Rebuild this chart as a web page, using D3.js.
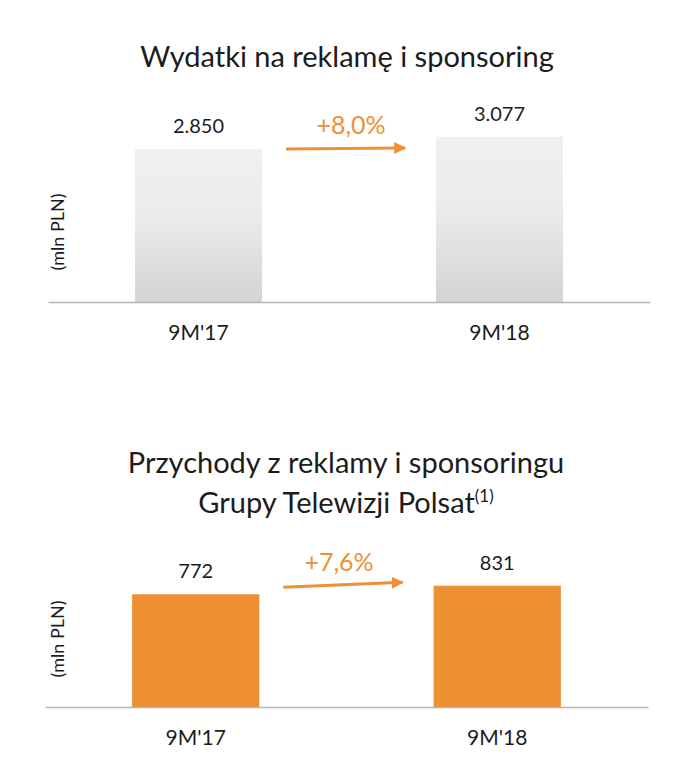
<!DOCTYPE html>
<html>
<head>
<meta charset="utf-8">
<script src="https://cdn.jsdelivr.net/npm/d3@7"></script>
<style>
  html, body { margin: 0; padding: 0; background: #fff; }
  svg { display: block; font-family: Lato, "Open Sans", sans-serif; }
</style>
</head>
<body>
<svg id="chart" width="700" height="772"></svg>
<script>
// ---- data ----
const categories = ["9M'17", "9M'18"];
const spendValues = [2850, 3077];
const spendLabels = ["2.850", "3.077"];
const spendChange = "+8,0%";
const revenueValues = [772, 831];
const revenueLabels = ["772", "831"];
const revenueChange = "+7,6%";
const unitLabel = "(mln PLN)";
const titleTop = ["Wydatki na reklamę i sponsoring"];
const titleBottom = ["Przychody z reklamy i sponsoringu", "Grupy Telewizji Polsat"];
const footnoteMark = "(1)";

const svg = d3.select("#chart");
const ORANGE = "#EE8F34";
const TEXT = "#1c1c1c";

const defs = svg.append("defs");
const grad = defs.append("linearGradient").attr("id", "greyGrad")
  .attr("x1", 0).attr("y1", 0).attr("x2", 0).attr("y2", 1);
grad.append("stop").attr("offset", "0%").attr("stop-color", "#f0f0f0");
grad.append("stop").attr("offset", "45%").attr("stop-color", "#ebebeb");
grad.append("stop").attr("offset", "100%").attr("stop-color", "#d3d3d3");

const marker = defs.append("marker").attr("id", "arrowHead")
  .attr("viewBox", "0 0 10 10").attr("refX", 9).attr("refY", 5)
  .attr("markerWidth", 4).attr("markerHeight", 4)
  .attr("markerUnits", "strokeWidth").attr("orient", "auto");
marker.append("path").attr("d", "M0,0 L10,5 L0,10 Z").attr("fill", ORANGE);

function panel(opts) {
  const g = svg.append("g");
  const x = d3.scaleBand().domain(categories).range(opts.xRange)
    .paddingInner(0.578).paddingOuter(0.289);
  const y = d3.scaleLinear().domain(opts.yDomain).range(opts.yRange);
  const base = y(0);

  // title
  const t = g.append("text").attr("x", opts.titleX).attr("y", opts.titleY)
    .attr("text-anchor", "middle").attr("fill", TEXT)
    .style("font-size", opts.titleSize + "px");
  opts.title.forEach((line, i) => {
    t.append("tspan").attr("x", opts.titleX).attr("dy", i === 0 ? 0 : opts.titleLH).text(line);
    if (opts.sup && i === opts.title.length - 1) {
      t.append("tspan").attr("dy", -11).style("font-size", "17px").text(opts.sup);
    }
  });

  // bars
  g.selectAll("rect.bar").data(opts.values).join("rect").attr("class", "bar")
    .attr("x", (d, i) => x(categories[i]))
    .attr("width", x.bandwidth())
    .attr("y", d => y(d))
    .attr("height", d => base - y(d))
    .attr("fill", opts.fill);

  // baseline axis
  const axis = d3.axisBottom(x).tickSize(0).tickPadding(0);
  const ag = g.append("g").attr("transform", `translate(0,${base})`).call(axis);
  ag.select(".domain").attr("stroke", "#b4b4b4").attr("stroke-width", 1.6);
  ag.selectAll(".tick text").attr("dy", 0).attr("y", 38)
    .attr("fill", TEXT).style("font-size", "21px").style("font-family", "Lato, 'Open Sans', sans-serif");

  // value labels
  g.selectAll("text.val").data(opts.values).join("text").attr("class", "val")
    .attr("x", (d, i) => x(categories[i]) + x.bandwidth() / 2)
    .attr("y", d => y(d) - 16)
    .attr("text-anchor", "middle").attr("fill", TEXT)
    .style("font-size", "20px")
    .text((d, i) => opts.labels[i]);

  // unit label
  g.append("text")
    .attr("transform", `translate(64,${opts.unitY}) rotate(-90)`)
    .attr("text-anchor", "middle").attr("fill", TEXT)
    .style("font-size", "18px").text(unitLabel);

  // change arrow
  const x0 = x(categories[0]) + x.bandwidth() + 24;
  const x1 = x(categories[1]) - 31;
  const ya = y(opts.values[0]) + opts.arrowDy[0];
  const yb = y(opts.values[0]) + opts.arrowDy[1];
  g.append("line").attr("x1", x0).attr("y1", ya).attr("x2", x1).attr("y2", yb)
    .attr("stroke", ORANGE).attr("stroke-width", 3).attr("marker-end", "url(#arrowHead)");
  g.append("text").attr("x", opts.changeX).attr("y", opts.changeY)
    .attr("text-anchor", "middle").attr("fill", ORANGE)
    .style("font-size", "25px").text(opts.change);
}

panel({
  title: titleTop, titleX: 347, titleY: 67, titleSize: 29, titleLH: 39,
  values: spendValues, labels: spendLabels, change: spendChange,
  xRange: [48, 650], yDomain: [0, 3500], yRange: [302, 302 - 3500 * 0.0537],
  fill: "url(#greyGrad)", unitY: 232, arrowDy: [0, -1], changeX: 351, changeY: 134
});

panel({
  title: titleBottom, titleX: 346, titleY: 473, titleSize: 29, titleLH: 40, sup: footnoteMark,
  values: revenueValues, labels: revenueLabels, change: revenueChange,
  xRange: [45, 648], yDomain: [0, 1000], yRange: [707, 707 - 1000 * 0.146],
  fill: ORANGE, unitY: 639, arrowDy: [-7, -12], changeX: 339, changeY: 571
});
</script>
</body>
</html>
